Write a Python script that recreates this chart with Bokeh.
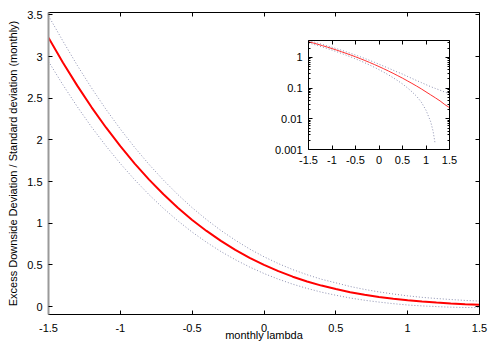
from bokeh.plotting import figure
from bokeh.layouts import column
from bokeh.models import Range1d, LinearAxis, LogAxis, FixedTicker, CustomJSTickFormatter
from bokeh.embed import file_html
from bokeh.resources import INLINE

# ---- data ----
lam = [-1.5, -1.4, -1.3, -1.2, -1.1, -1.0, -0.9, -0.8, -0.7, -0.6, -0.5,
       -0.4, -0.3, -0.2, -0.1, 0.0, 0.1, 0.2, 0.3, 0.4, 0.5,
       0.6, 0.7, 0.8, 0.9, 1.0, 1.1, 1.2, 1.3, 1.4, 1.5]
ratio = [3.227, 2.931, 2.652, 2.392, 2.150, 1.925, 1.716, 1.524, 1.348, 1.187, 1.040,
         0.908, 0.788, 0.681, 0.585, 0.500, 0.425, 0.359, 0.302, 0.252, 0.210,
         0.173, 0.142, 0.116, 0.094, 0.075, 0.060, 0.048, 0.038, 0.029, 0.023]
upper = [3.490, 3.188, 2.896, 2.623, 2.368, 2.131, 1.910, 1.706, 1.518, 1.345, 1.187,
         1.044, 0.914, 0.797, 0.691, 0.598, 0.516, 0.444, 0.382, 0.328, 0.285,
         0.241, 0.206, 0.176, 0.151, 0.129, 0.111, 0.097, 0.085, 0.074, 0.066]
lam_lower = [-1.5, -1.4, -1.3, -1.2, -1.1, -1.0, -0.9, -0.8, -0.7, -0.6, -0.5,
             -0.4, -0.3, -0.2, -0.1, 0.0, 0.1, 0.2, 0.3, 0.4, 0.5,
             0.6, 0.7, 0.8, 0.9, 1.0, 1.1, 1.15, 1.19, 1.2, 1.3, 1.4, 1.5]
lower = [2.942, 2.663, 2.400, 2.155, 1.928, 1.717, 1.522, 1.343, 1.179, 1.030, 0.894,
         0.772, 0.661, 0.563, 0.475, 0.397, 0.329, 0.269, 0.218, 0.173, 0.136,
         0.103, 0.076, 0.054, 0.035, 0.019, 0.008, 0.004, 0.0017, -0.0005, -0.007, -0.011, -0.012]

x_ticks = [-1.5, -1.0, -0.5, 0.0, 0.5, 1.0, 1.5]
y_ticks = [0.0, 0.5, 1.0, 1.5, 2.0, 2.5, 3.0, 3.5]
inset_y_ticks = [0.001, 0.01, 0.1, 1.0]
inset_minor = [0.002, 0.003, 0.004, 0.005, 0.006, 0.007, 0.008, 0.009,
               0.02, 0.03, 0.04, 0.05, 0.06, 0.07, 0.08, 0.09,
               0.2, 0.3, 0.4, 0.5, 0.6, 0.7, 0.8, 0.9,
               2.0, 3.0]

FONT = "Liberation Sans"
FS = "11px"
RED = "#ff0000"
DOT = "#8c90b0"


def style_axis(ax, ticks, labels=True, minor=None, tick_len=4, minor_len=2):
    ax.ticker = FixedTicker(ticks=ticks, minor_ticks=minor or [])
    ax.major_tick_in = tick_len
    ax.major_tick_out = 0
    ax.minor_tick_in = minor_len if minor else 0
    ax.minor_tick_out = 0
    ax.major_tick_line_color = "black"
    ax.minor_tick_line_color = "black"
    ax.axis_line_color = "black"
    if labels:
        ax.formatter = CustomJSTickFormatter(code="return tick.toString();")
    else:
        ax.formatter = CustomJSTickFormatter(code="return '';")
        ax.major_label_standoff = 0
    ax.major_label_text_font = FONT
    ax.major_label_text_font_size = FS
    ax.major_label_text_color = "black"
    ax.axis_label_text_font = FONT
    ax.axis_label_text_font_size = FS
    ax.axis_label_text_font_style = "normal"
    ax.axis_label_text_color = "black"


# ---- main plot ----
p = figure(width=490, height=348, x_range=Range1d(-1.5, 1.5), y_range=Range1d(-0.095, 3.53),
           output_backend="svg", toolbar_location=None,
           min_border_left=48, min_border_right=11, min_border_top=12, min_border_bottom=34)
p.grid.visible = False
p.outline_line_color = None
p.background_fill_color = "white"

style_axis(p.xaxis[0], x_ticks)
p.xaxis[0].axis_label = "monthly lambda"
p.xaxis[0].major_label_standoff = 9
p.xaxis[0].axis_label_standoff = -6
style_axis(p.yaxis[0], y_ticks)
p.yaxis[0].axis_label = "Excess Downside Deviation / Standard deviation (monthly)"
p.yaxis[0].major_label_standoff = 6
p.yaxis[0].axis_label_standoff = 5
p.yaxis[0].axis_line_color = "#9a9a9a"
p.yaxis[0].axis_line_width = 2

top = LinearAxis()
style_axis(top, x_ticks, labels=False)
p.add_layout(top, "above")
right = LinearAxis()
style_axis(right, y_ticks, labels=False)
p.add_layout(right, "right")

p.line(lam, upper, line_color=DOT, line_width=1, line_dash="1 2")
p.line(lam_lower, lower, line_color=DOT, line_width=1, line_dash="1 2")
p.line(lam, ratio, line_color=RED, line_width=2)

# ---- inset (log scale) ----
pi = figure(width=200, height=135, x_range=Range1d(-1.5, 1.5), y_range=Range1d(0.001, 3.53),
            y_axis_type="log", output_backend="svg", toolbar_location=None,
            min_border_left=40, min_border_right=8, min_border_top=4, min_border_bottom=22)
pi.grid.visible = False
pi.outline_line_color = None
pi.background_fill_color = "white"
pi.border_fill_alpha = 0

style_axis(pi.xaxis[0], x_ticks)
pi.xaxis[0].major_label_standoff = 6
style_axis(pi.yaxis[0], inset_y_ticks, minor=inset_minor)
pi.yaxis[0].major_label_standoff = 6
itop = LinearAxis()
style_axis(itop, x_ticks, labels=False)
pi.add_layout(itop, "above")
iright = LogAxis()
style_axis(iright, inset_y_ticks, labels=False, minor=inset_minor)
pi.add_layout(iright, "right")

lower_pos = [v if v > 0 else float("nan") for v in lower]
pi.line(lam, upper, line_color=DOT, line_width=1, line_dash="1 2")
pi.line(lam_lower, lower_pos, line_color=DOT, line_width=1, line_dash="1 2")
pi.line(lam, ratio, line_color="#ff3030", line_width=1)

pi.margin = (-312, 0, 0, 260)

layout = column(p, pi, spacing=0)
open("out.html", "w").write(file_html(layout, INLINE))
